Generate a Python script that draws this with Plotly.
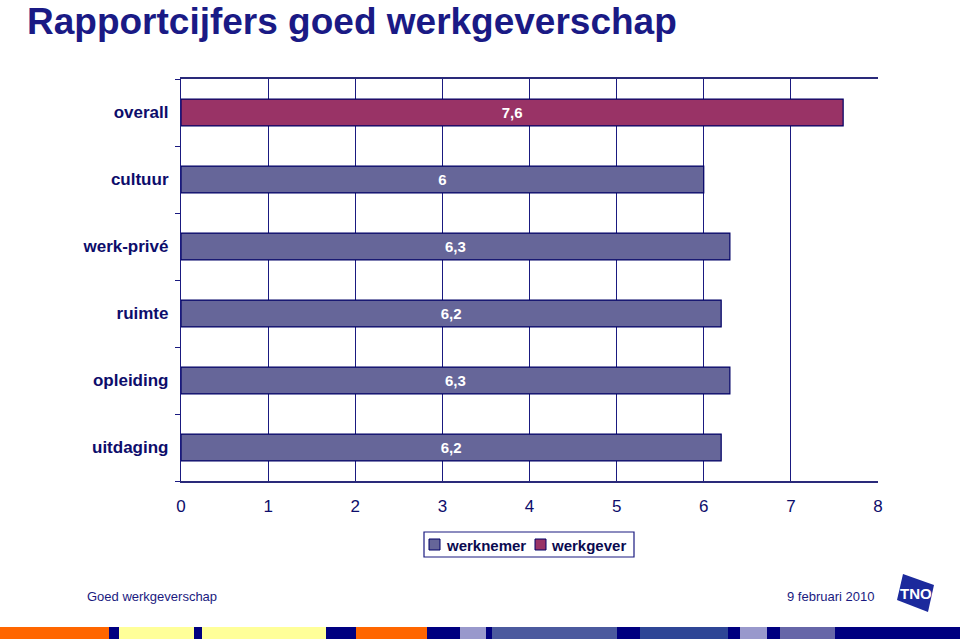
import plotly.graph_objects as go

categories = ["overall", "cultuur", "werk-privé", "ruimte", "opleiding", "uitdaging"]
werknemer_cats = ["cultuur", "werk-privé", "ruimte", "opleiding", "uitdaging"]
werknemer_vals = [6.0, 6.3, 6.2, 6.3, 6.2]
werkgever_cats = ["overall"]
werkgever_vals = [7.6]
x_ticks = [0, 1, 2, 3, 4, 5, 6, 7, 8]
series_names = ["werknemer", "werkgever"]
series_colors = ["#666699", "#993366"]

W, H = 960, 639
L, R, T, B = 181, 878, 79, 481
NAVY = "#1a1a80"
TXT = "#0d0d6b"
FONT = "Liberation Sans, Arial, sans-serif"


def px(x):
    return (x - L) / (R - L)


def py(y):
    return (B - y) / (B - T)


fig = go.Figure()
fig.add_trace(go.Bar(
    name=series_names[0], y=werknemer_cats, x=werknemer_vals, orientation="h",
    width=0.4, marker=dict(color=series_colors[0], line=dict(color="#000066", width=1.2)),
    texttemplate="<b>%{x}</b>", textposition="inside", insidetextanchor="middle",
    textfont=dict(color="white", size=15, family=FONT), cliponaxis=False,
))
fig.add_trace(go.Bar(
    name=series_names[1], y=werkgever_cats, x=werkgever_vals, orientation="h",
    width=0.4, marker=dict(color=series_colors[1], line=dict(color="#000066", width=1.2)),
    texttemplate="<b>%{x}</b>", textposition="inside", insidetextanchor="middle",
    textfont=dict(color="white", size=15, family=FONT), cliponaxis=False,
))

shapes = []
# bottom colour strip
strip = [
    (0, 109, "#FF6600"), (109, 119, "#000080"), (119, 194, "#FFFF99"),
    (194, 202, "#000080"), (202, 326, "#FFFF99"), (326, 356, "#000080"),
    (356, 427, "#FF6600"), (427, 460, "#000080"), (460, 486, "#9999CC"),
    (486, 492, "#000080"), (492, 617, "#4B5A9E"), (617, 640, "#000080"),
    (640, 728, "#2E4696"), (728, 740, "#000080"), (740, 767, "#9999CC"),
    (767, 780, "#000080"), (780, 835, "#6666A8"), (835, 960, "#000080"),
]
for a, b, c in strip:
    shapes.append(dict(type="rect", xref="paper", yref="paper",
                       x0=px(a), x1=px(b), y0=py(639), y1=py(627),
                       fillcolor=c, line=dict(width=0), layer="above"))

# TNO logo shape
pts = [(903, 574), (934, 585), (928, 612), (897, 600)]
path = "M " + " L ".join(f"{px(x):.5f},{py(y):.5f}" for x, y in pts) + " Z"
shapes.append(dict(type="path", xref="paper", yref="paper", path=path,
                   fillcolor="#1C2A9C", line=dict(width=0)))

# legend box (drawn)
shapes.append(dict(type="rect", xref="paper", yref="paper",
                   x0=px(424), x1=px(634), y0=py(557), y1=py(532),
                   fillcolor="white", line=dict(color=NAVY, width=1.2)))
legend_items = [(429, 444), (535, 549)]
annotations = []
for (sx, tx), name, col in zip(legend_items, series_names, series_colors):
    shapes.append(dict(type="rect", xref="paper", yref="paper",
                       x0=px(sx), x1=px(sx + 11), y0=py(550), y1=py(539),
                       fillcolor=col, line=dict(color="#000066", width=1)))
    annotations.append(dict(text=f"<b>{name}</b>", xref="paper", yref="paper",
                            x=px(tx), y=py(545), xanchor="left", yanchor="middle",
                            showarrow=False,
                            font=dict(size=15, color="#0a0a50", family=FONT)))

annotations += [
    dict(text="<b>Rapportcijfers goed werkgeverschap</b>", xref="paper", yref="paper",
         x=px(26), y=py(0), xanchor="left", yanchor="top", showarrow=False,
         font=dict(size=37, color="#1a1a85", family=FONT), borderpad=0),
    dict(text="Goed werkgeverschap", xref="paper", yref="paper",
         x=px(85), y=py(596), xanchor="left", yanchor="middle", showarrow=False,
         font=dict(size=13, color="#1a1a80", family=FONT)),
    dict(text="9 februari 2010", xref="paper", yref="paper",
         x=px(876), y=py(596), xanchor="right", yanchor="middle", showarrow=False,
         font=dict(size=13, color="#1a1a80", family=FONT)),
    dict(text="<b>TNO</b>", xref="paper", yref="paper",
         x=px(916), y=py(593), xanchor="center", yanchor="middle", showarrow=False,
         font=dict(size=15, color="white", family=FONT)),
]

fig.update_layout(
    width=W, height=H,
    margin=dict(l=L, r=W - R, t=T, b=H - B),
    paper_bgcolor="white", plot_bgcolor="white",
    separators=",.",
    barmode="overlay",
    font=dict(family=FONT, color=TXT),
    showlegend=False,
    shapes=shapes,
    annotations=annotations,
    xaxis=dict(range=[0, 8], tickvals=x_ticks, showgrid=True, gridcolor=NAVY, gridwidth=1.2,
               showline=True, linecolor="#2a2a7a", linewidth=2, mirror=True,
               ticks="", tickfont=dict(size=17, color=TXT), zeroline=False,
               ticklabelstandoff=9, fixedrange=True),
    yaxis=dict(categoryorder="array", categoryarray=categories[::-1],
               showgrid=False, showline=True, linecolor=NAVY, linewidth=1.2,
               ticks="outside", tickson="boundaries", ticklen=5, tickcolor=NAVY,
               tickfont=dict(size=17, color=TXT), ticklabelstandoff=8),
)
fig.update_yaxes(tickprefix="<b>", ticksuffix="</b>")

fig.write_html("out.html")
